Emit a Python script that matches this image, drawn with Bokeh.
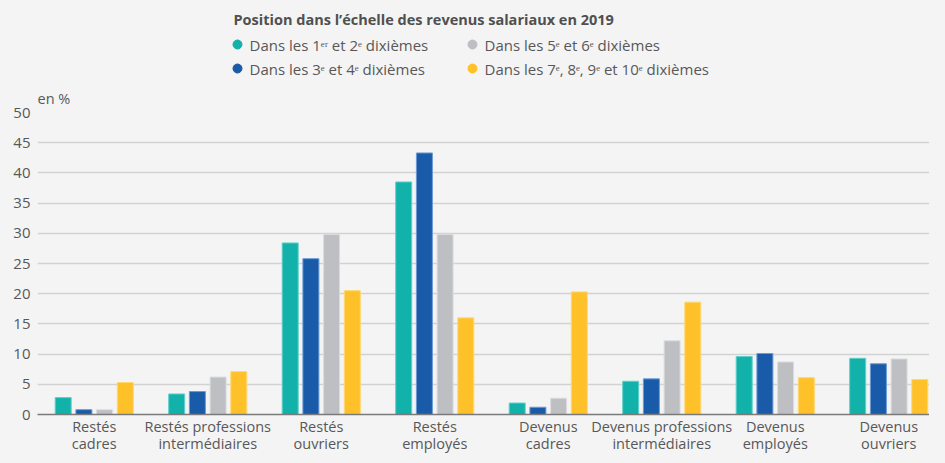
from bokeh.plotting import figure
from bokeh.models import Range1d, FixedTicker, ColumnDataSource, Title
from bokeh.layouts import column
from bokeh.core.properties import value
from bokeh.embed import file_html
from bokeh.resources import INLINE

categories = ["Restés\ncadres", "Restés professions\nintermédiaires", "Restés\nouvriers",
              "Restés\nemployés", "Devenus\ncadres", "Devenus professions\nintermédiaires",
              "Devenus\nemployés", "Devenus\nouvriers"]
series_names = ["Dans les 1ᵉʳ et 2ᵉ dixièmes", "Dans les 3ᵉ et 4ᵉ dixièmes",
                "Dans les 5ᵉ et 6ᵉ dixièmes", "Dans les 7ᵉ, 8ᵉ, 9ᵉ et 10ᵉ dixièmes"]
d1_2 = [2.8, 3.4, 28.4, 38.5, 1.9, 5.5, 9.6, 9.3]
d3_4 = [0.8, 3.8, 25.8, 43.3, 1.2, 5.9, 10.1, 8.4]
d5_6 = [0.8, 6.2, 29.8, 29.8, 2.7, 12.2, 8.7, 9.2]
d7_10 = [5.3, 7.1, 20.5, 16.0, 20.3, 18.6, 6.1, 5.8]
y_ticks = [0, 5, 10, 15, 20, 25, 30, 35, 40, 45, 50]
title_text = "Position dans l’échelle des revenus salariaux en 2019"
unit_text = "en %"

colors = ["#12B2AA", "#1A5BA9", "#BEBFC3", "#FFC12A"]
edge_colors = ["#5fd0ca", "#6d9ad4", "#dcdde0", "#ffd872"]
BG = "#F4F4F4"
TXT = "#585858"
FONT = "Open Sans"
W, H = 929, 455
LEFT = 37          # left border of the plot frames (frames are aligned in the column)

# ---- header / legend figure (x,y in canvas pixels, y downward) ----
LH = 78
leg = figure(width=W, height=LH, x_range=Range1d(LEFT, W), y_range=Range1d(LH, 0),
             output_backend="svg", toolbar_location=None, min_border=0, min_border_left=LEFT,
             x_axis_location=None, y_axis_location=None,
             background_fill_color=BG, border_fill_color=BG, outline_line_color=None)
leg.grid.visible = False
leg.text(x=[233], y=[19], text=[title_text], text_font=value(FONT), text_font_size="14.5px",
         text_font_style="bold", text_color="#505050", text_baseline="middle")
lx = [237, 237, 472, 472]
ly = [44, 68, 44, 68]
leg.scatter(x=lx, y=ly, size=9, color=colors, marker="circle")
leg.text(x=[v + 12 for v in lx], y=ly, text=series_names, text_font=value(FONT),
         text_font_size="15px", text_color=TXT, text_baseline="middle")

# ---- chart ----
xs = [i + 0.5 for i in range(len(categories))]
p = figure(width=W, height=H - LH, x_range=Range1d(0, (W - LEFT) / 113.5), y_range=Range1d(0, 50),
           output_backend="svg", toolbar_location=None,
           min_border_left=LEFT, min_border_right=0, min_border_top=112 - LH, min_border_bottom=38,
           background_fill_color=BG, border_fill_color=BG, outline_line_color=None)
p.add_layout(Title(text=unit_text, align="left", text_font=FONT, text_font_size="14.5px",
                   text_font_style="normal", text_color=TXT, standoff=10), "above")
pitch = 0.1824
bw = 0.141
for k, vals in enumerate([d1_2, d3_4, d5_6, d7_10]):
    off = (k - 1.5) * pitch
    src = ColumnDataSource(dict(x=[x + off for x in xs], top=vals))
    p.vbar(x="x", top="top", bottom=0, width=bw, source=src, fill_color=colors[k],
           line_color=edge_colors[k], line_width=1)

p.xaxis.ticker = FixedTicker(ticks=xs)
p.xaxis.major_label_overrides = {x: c for x, c in zip(xs, categories)}
p.xaxis.major_tick_line_color = None
p.xaxis.major_tick_out = 0
p.xaxis.major_tick_in = 0
p.xaxis.minor_tick_line_color = None
p.xaxis.axis_line_color = "#7a7a7a"
p.xaxis.axis_line_width = 1.5
p.xaxis.major_label_text_font = FONT
p.xaxis.major_label_text_font_size = "14.5px"
p.xaxis.major_label_text_line_height = 0.92
p.xaxis.major_label_text_color = TXT
p.xaxis.major_label_standoff = 2

p.yaxis.ticker = FixedTicker(ticks=y_ticks)
p.yaxis.major_tick_line_color = None
p.yaxis.major_tick_out = 0
p.yaxis.major_tick_in = 0
p.yaxis.minor_tick_line_color = None
p.yaxis.axis_line_color = None
p.yaxis.major_label_text_font = FONT
p.yaxis.major_label_text_font_size = "15px"
p.yaxis.major_label_text_color = TXT
p.yaxis.major_label_standoff = 7

p.xgrid.grid_line_color = None
p.ygrid.grid_line_color = "#D2D2D2"
p.ygrid.grid_line_width = 1.3

layout = column(leg, p, spacing=0)
html = file_html(layout, INLINE).replace("<body>", '<body style="background-color:#F4F4F4;">')
open("out.html", "w").write(html)
